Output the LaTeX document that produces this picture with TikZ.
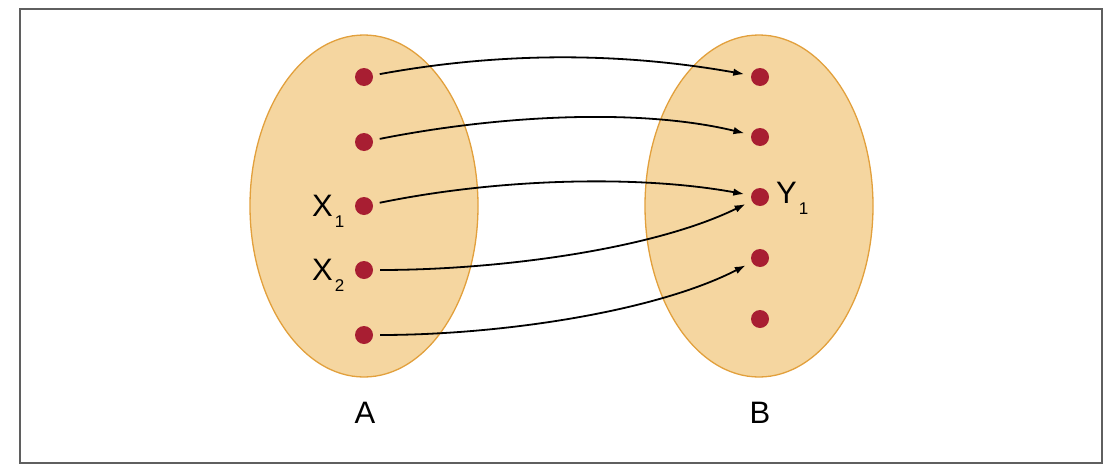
\documentclass[tikz,border=0pt]{standalone}
\usepackage{fontspec}
\setmainfont{Liberation Sans}
\usetikzlibrary{arrows.meta}
\definecolor{setfill}{RGB}{245,214,160}
\definecolor{setdraw}{RGB}{226,160,60}
\definecolor{dotred}{RGB}{168,30,50}
\definecolor{framegray}{RGB}{95,95,95}
\newcommand{\subl}[2]{#1\kern2pt\raisebox{-11pt}{\fontsize{17}{17}\selectfont #2}}
\begin{document}
\begin{tikzpicture}[x=1pt,y=-1pt,
  setshape/.style={draw=setdraw,fill=setfill,line width=1.3pt},
  elem/.style={circle,fill=dotred,minimum size=18pt,inner sep=0pt,outer sep=7pt},
  lbl/.style={font=\fontsize{31}{36}\selectfont,inner sep=0pt,anchor=base west},
  setlbl/.style={font=\fontsize{31}{36}\selectfont,inner sep=0pt,anchor=base},
  mapto/.style={line width=1.8pt,-{Latex[length=11pt,width=7.5pt]}},
  frame/.style={draw=framegray,line width=2.5pt}]
\useasboundingbox (0,0) rectangle (1114,466);
\draw[frame] (20,9) rectangle (1102,463);
% sets
\draw[setshape] (364,206) ellipse [x radius=114, y radius=171];
\draw[setshape] (759,206) ellipse [x radius=114, y radius=171];
% elements of A
\node[elem] (a1) at (364,77) {};
\node[elem] (a2) at (364,142) {};
\node[elem] (a3) at (364,206) {};
\node[elem] (a4) at (364,270) {};
\node[elem] (a5) at (364,335) {};
% elements of B
\node[elem] (b1) at (760,77) {};
\node[elem] (b2) at (760,137) {};
\node[elem] (b3) at (760,197) {};
\node[elem] (b4) at (760,258) {};
\node[elem] (b5) at (760,319) {};
% labels
\node[lbl] (x1) at (312,216) {\subl{X}{1}};
\node[lbl] (x2) at (312,280) {\subl{X}{2}};
\node[lbl] (y1) at (776,203) {\subl{Y}{1}};
\node[setlbl] (la) at (365,423) {A};
\node[setlbl] (lb) at (760,423) {B};
% mappings
\draw[mapto] (a1) .. controls +(136,-25) and +(-140,-25) .. (b1);
\draw[mapto] (a2) .. controls +(136,-27) and +(-120,-29) .. (b2);
\draw[mapto] (a3) .. controls +(136,-28) and +(-120,-22) .. (b3);
\draw[mapto] (a4) .. controls +(136,0) and +(-106,52) .. (b3);
\draw[mapto] (a5) .. controls +(136,0) and +(-105,54) .. (b4);
\end{tikzpicture}
\end{document}
